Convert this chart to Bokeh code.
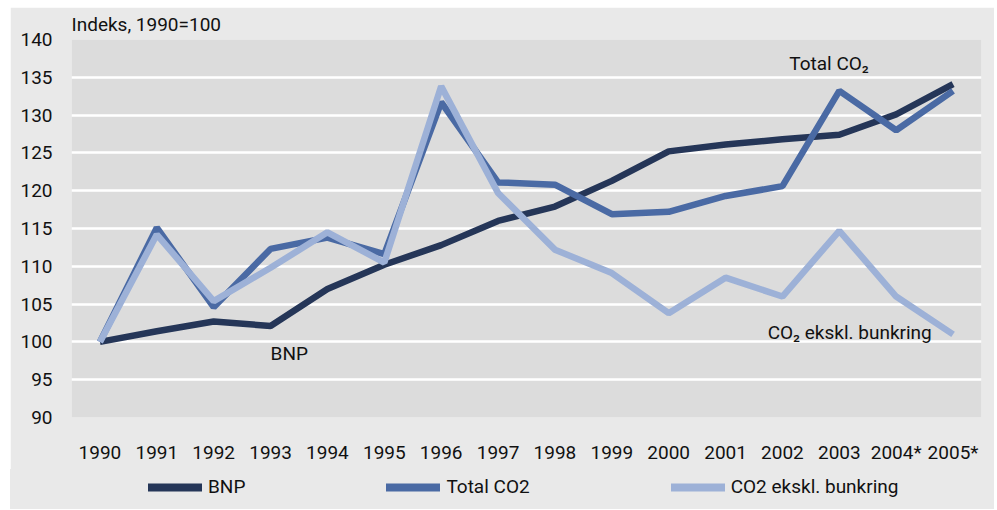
from bokeh.plotting import figure
from bokeh.layouts import column
from bokeh.models import (Range1d, FactorRange, Label, Legend, LegendItem,
                          SingleIntervalTicker, ColumnDataSource)
from bokeh.embed import file_html
from bokeh.resources import INLINE

years = ["1990", "1991", "1992", "1993", "1994", "1995", "1996", "1997",
         "1998", "1999", "2000", "2001", "2002", "2003", "2004*", "2005*"]
bnp = [100.0, 101.4, 102.7, 102.1, 107.0, 110.2, 112.8, 116.0,
       117.9, 121.3, 125.2, 126.1, 126.8, 127.4, 130.1, 134.1]
total_co2 = [100.0, 115.1, 104.6, 112.3, 113.8, 111.6, 131.7, 121.1,
             120.8, 116.9, 117.2, 119.3, 120.6, 133.2, 128.0, 133.2]
co2_ekskl = [100.0, 114.2, 105.4, 109.8, 114.5, 110.5, 133.8, 119.7,
             112.2, 109.1, 103.8, 108.5, 106.0, 114.7, 106.0, 101.0]
series_names = ["BNP", "Total CO2", "CO2 ekskl. bunkring"]
colors = ["#253658", "#4a6aa4", "#9db1d7"]

FONT = "Roboto"
FS = "19px"
OUTER = "#e9e9e9"

p = figure(width=984, height=462, x_range=FactorRange(*years),
           y_range=Range1d(90, 140), output_backend="svg",
           toolbar_location=None, min_border_left=61, min_border_right=13,
           min_border_top=32, min_border_bottom=52)

p.background_fill_color = "#dcdcdc"
p.border_fill_color = OUTER
p.outline_line_color = None

p.title.text = "Indeks, 1990=100"
p.title.text_font = FONT
p.title.text_font_size = FS
p.title.text_font_style = "normal"
p.title.text_color = "#111111"
p.title.align = "left"
p.title.standoff = 7

src = ColumnDataSource(dict(x=years, bnp=bnp, tot=total_co2, eks=co2_ekskl))
for col, c in zip(["bnp", "tot", "eks"], colors):
    p.line("x", col, source=src, line_color=c, line_width=6.5)

p.ygrid.grid_line_color = "white"
p.ygrid.grid_line_width = 2.5
p.xgrid.grid_line_color = None

p.yaxis.ticker = SingleIntervalTicker(interval=5)
for ax in (p.xaxis, p.yaxis):
    ax.axis_line_color = None
    ax.major_tick_line_color = None
    ax.minor_tick_line_color = None
    ax.major_label_text_font = FONT
    ax.major_label_text_font_size = FS
    ax.major_label_text_color = "#111111"
p.yaxis.major_label_standoff = 13
p.xaxis.major_label_standoff = 17

for txt, x, y in [("BNP", 3.5, 98.5), ("Total CO\u2082", 12.62, 136.8),
                  ("CO\u2082 ekskl. bunkring", 12.24, 101.2)]:
    p.add_layout(Label(x=x, y=y, text=txt, text_font=FONT,
                       text_font_size=FS, text_color="#111111",
                       text_baseline="middle"))

# legend strip as a separate, axis-less figure (transparent on the layout bg)
lf = figure(width=984, height=40, x_range=Range1d(0, 1), y_range=Range1d(0, 1),
            output_backend="svg", toolbar_location=None, min_border=0,
            x_axis_location=None, y_axis_location=None)
lf.grid.visible = False
lf.background_fill_alpha = 0
lf.border_fill_alpha = 0
lf.outline_line_color = None
lf.styles = {"background-color": OUTER}
items = []
for name, c in zip(series_names, colors):
    r = lf.line([5, 6], [5, 6], line_color=c, line_width=8, line_cap="round")
    items.append(LegendItem(label=name, renderers=[r]))
legend = Legend(items=items, orientation="horizontal", location=(77, 11),
                background_fill_alpha=0, border_line_color=None,
                label_text_font=FONT, label_text_font_size=FS,
                label_text_color="#111111",
                glyph_width=54, glyph_height=20, label_standoff=6,
                spacing=141, padding=4, margin=0)
lf.add_layout(legend)

layout = column(p, lf, spacing=0, margin=(7, 0, 0, 10))
open("out.html", "w").write(file_html(layout, INLINE))
